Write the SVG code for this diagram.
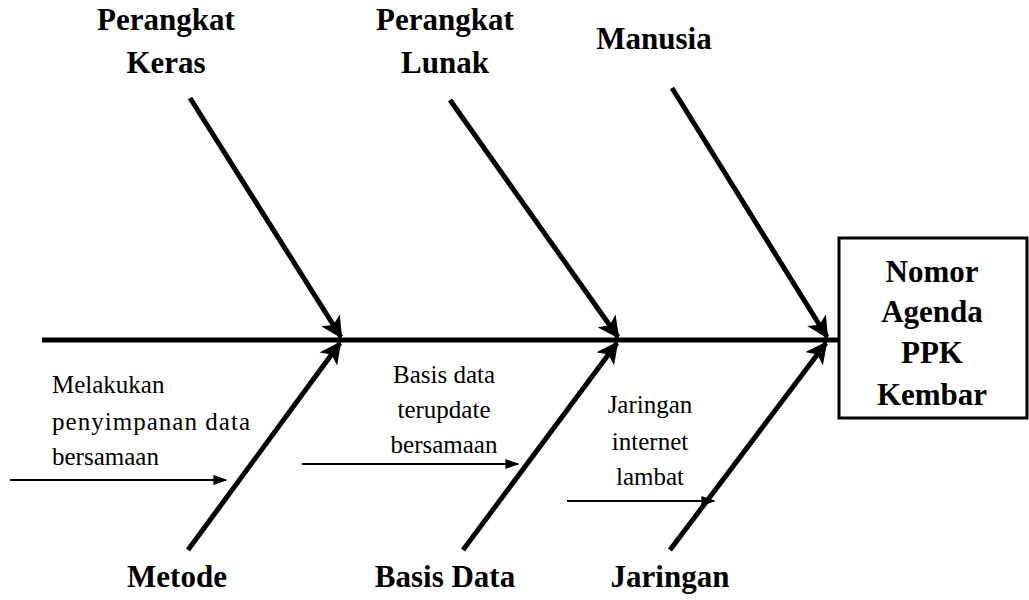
<svg xmlns="http://www.w3.org/2000/svg" width="1029" height="600" viewBox="0 0 1029 600">
  <defs>
    <marker id="head" viewBox="0 0 10 10" refX="9" refY="5" markerWidth="4.4" markerHeight="4.4" orient="auto" markerUnits="strokeWidth">
      <path d="M0,0 L10,5 L0,10 L2.5,5 Z" fill="#000"/>
    </marker>
    <marker id="small" viewBox="0 0 10 10" refX="9" refY="5" markerWidth="7" markerHeight="7" orient="auto" markerUnits="strokeWidth">
      <path d="M0,1.5 L10,5 L0,8.5 Z" fill="#000"/>
    </marker>
    <style>
      text { font-family:'Liberation Serif', Tinos, 'Times New Roman', 'DejaVu Serif', serif; fill:#000; }
      .bone { stroke:#000; stroke-width:5; fill:none; marker-end:url(#head); }
      .spine { stroke:#000; stroke-width:5; fill:none; }
      .sub { stroke:#000; stroke-width:2; fill:none; marker-end:url(#small); }
      .cat { font-weight:bold; font-size:31px; text-anchor:middle; }
      .cause { font-size:25px; }
      .mid { text-anchor:middle; }
    </style>
  </defs>

  <g id="connectors">
    <line class="spine" x1="42" y1="340" x2="840" y2="340"/>
    <line class="bone" x1="190" y1="98" x2="341" y2="337"/>
    <line class="bone" x1="450" y1="100" x2="618" y2="337"/>
    <line class="bone" x1="672" y1="88" x2="827" y2="337"/>
    <line class="bone" x1="188" y1="550" x2="340" y2="343"/>
    <line class="bone" x1="463" y1="550" x2="617" y2="343"/>
    <line class="bone" x1="670" y1="550" x2="826" y2="343"/>
    <line class="sub" x1="10" y1="480" x2="226" y2="480"/>
    <line class="sub" x1="302" y1="464" x2="518" y2="464"/>
    <line class="sub" x1="567" y1="501" x2="714" y2="501"/>
  </g>

  <g id="effect">
    <rect x="839" y="238" width="188" height="180" fill="#fff" stroke="#000" stroke-width="3"/>
    <text class="cat" x="932" y="282">Nomor</text>
    <text class="cat" x="932" y="322">Agenda</text>
    <text class="cat" x="932" y="363">PPK</text>
    <text class="cat" x="932" y="405">Kembar</text>
  </g>

  <g id="perangkat-keras">
    <text class="cat" x="166" y="30">Perangkat</text>
    <text class="cat" x="166" y="73">Keras</text>
  </g>
  <g id="perangkat-lunak">
    <text class="cat" x="445" y="30">Perangkat</text>
    <text class="cat" x="445" y="73">Lunak</text>
  </g>
  <g id="manusia">
    <text class="cat" x="654" y="49">Manusia</text>
  </g>
  <g id="metode">
    <text class="cat" x="177" y="587">Metode</text>
    <text class="cause" x="52" y="393">Melakukan</text>
    <text class="cause" x="52" y="430" textLength="198" lengthAdjust="spacing">penyimpanan data</text>
    <text class="cause" x="52" y="465">bersamaan</text>
  </g>
  <g id="basis-data">
    <text class="cat" x="445" y="587">Basis Data</text>
    <text class="cause mid" x="444" y="383">Basis data</text>
    <text class="cause mid" x="444" y="418">terupdate</text>
    <text class="cause mid" x="444" y="453">bersamaan</text>
  </g>
  <g id="jaringan">
    <text class="cat" x="670" y="587">Jaringan</text>
    <text class="cause mid" x="650" y="413">Jaringan</text>
    <text class="cause mid" x="650" y="450">internet</text>
    <text class="cause mid" x="650" y="485">lambat</text>
  </g>
</svg>
